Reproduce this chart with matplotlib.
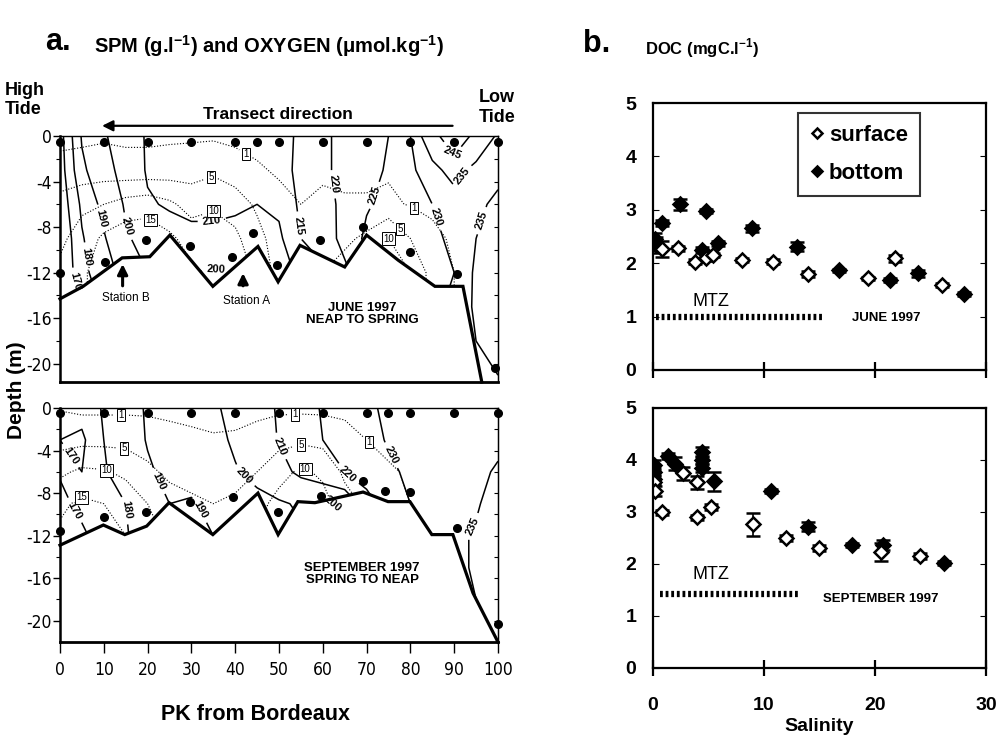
import numpy as np
import matplotlib
matplotlib.use("Agg")
import matplotlib.pyplot as plt
from matplotlib.patches import Polygon, FancyArrowPatch
from matplotlib.lines import Line2D
from matplotlib import font_manager as fm

plt.rcParams.update({"font.family": ["Liberation Sans", "DejaVu Sans"], "axes.unicode_minus": False,
    "mathtext.fontset": "custom", "mathtext.rm": "Liberation Sans", "mathtext.bf": "Liberation Sans:bold"})


def narrow_font(size):
    # condensed face for the section axes, if one is installed
    bad = ("bold", "italic", "oblique", "light", "thin", "semi", "extra", "black", "medium")
    for f in fm.fontManager.ttflist:
        n = f.fname.lower()
        if ("narrow" in n or "condensed" in n) and not any(b in n for b in bad):
            return fm.FontProperties(fname=f.fname, size=size)
    return fm.FontProperties(family="Liberation Sans", size=size - 1.5)


# ---------------- panel a: section grids (PK x depth)
PK = [0, 5, 10, 15, 20, 25, 30, 35, 40, 45, 50, 55, 60, 65, 70, 75, 80, 85, 90, 95, 100]
DEPTH = [0, -3, -6, -9, -12, -15, -18, -21, -24]

o2_june = [
    [166, 191, 199, 205, 211, 212, 212.5, 213, 213, 213.5, 214, 215.5, 219, 221.5, 223.5, 225, 230, 240, 255, 241, 234],
    [165, 188, 197, 203, 211, 212, 212.5, 213, 213, 213, 213.5, 216, 219, 221.5, 223.5, 225.5, 229, 233, 237.5, 233, 233],
    [163, 182, 193, 201, 209, 211, 211, 211, 210.5, 210, 211, 216, 218.5, 221, 224.5, 226.5, 228.5, 230, 232, 233.5, 236.5],
    [160, 179, 189, 199, 203, 206, 209, 209, 209, 208, 209, 215, 217.5, 221.5, 226, 227, 228.5, 229, 231, 235, 237],
    [158, 178, 184, 195, 200, 202, 200, 199, 200, 204, 206, 212, 214, 219, 223, 226, 228, 228.5, 230, 236, 238],
    [156, 170, 182, 193, 198, 200, 198, 198, 198, 202, 205, 211, 213, 218, 222, 225, 228, 229, 231, 236, 237],
    [156, 170, 182, 193, 198, 200, 198, 198, 198, 202, 205, 211, 213, 218, 222, 225, 228, 229, 230, 235, 236],
    [156, 170, 182, 193, 198, 200, 198, 198, 198, 202, 205, 211, 213, 218, 222, 225, 228, 229, 230, 234, 235],
    [156, 170, 182, 193, 198, 200, 198, 198, 198, 202, 205, 211, 213, 218, 222, 225, 228, 229, 230, 234, 235],
]
spm_june = [
    [0.6, 0.5, 0.6, 0.5, 0.5, 0.5, 0.5, 0.5, 0.5, 0.5, 0.5, 0.4, 0.4, 0.4, 0.4, 0.5, 0.5, 0.4, 0.3, 0.3, 0.3],
    [1.5, 2, 2.5, 2, 2, 2.5, 3, 4, 2, 1.2, 0.8, 0.5, 0.6, 0.6, 0.6, 0.7, 0.6, 0.4, 0.3, 0.3, 0.3],
    [7, 9, 10, 12, 13, 11, 8, 9.5, 8, 4, 1.5, 1, 1.5, 1.2, 1.2, 1.5, 0.8, 0.6, 0.4, 0.3, 0.3],
    [9, 12, 16, 18, 18, 16, 13, 12, 11, 7, 2, 2, 3, 4, 6, 10, 5, 1.5, 0.7, 0.4, 0.3],
    [11, 14, 18, 20, 20, 18, 16, 14, 13, 9, 3, 3, 5, 7, 9, 13, 10, 3, 1, 0.5, 0.3],
    [11, 14, 18, 20, 20, 18, 16, 14, 13, 9, 3, 3, 5, 7, 9, 13, 10, 3, 1, 0.5, 0.3],
    [11, 14, 18, 20, 20, 18, 16, 14, 13, 9, 3, 3, 5, 7, 9, 13, 10, 3, 1, 0.5, 0.3],
    [11, 14, 18, 20, 20, 18, 16, 14, 13, 9, 3, 3, 5, 7, 9, 13, 10, 3, 1, 0.5, 0.3],
    [11, 14, 18, 20, 20, 18, 16, 14, 13, 9, 3, 3, 5, 7, 9, 13, 10, 3, 1, 0.5, 0.3],
]
o2_sept = [
    [171, 174, 181, 186, 191, 194, 196, 199, 202, 206, 211, 215, 221, 224, 229, 231, 232, 232.5, 233, 233.5, 234],
    [170, 168, 180, 186, 190.5, 193, 195, 198, 201, 205, 210.5, 214, 220, 223, 228, 230.5, 232, 232.5, 233, 233.5, 234],
    [171, 170, 179, 185, 189, 192, 194, 197, 199.5, 202, 207, 212, 217, 220, 226, 229, 231, 232, 233, 234, 235.5],
    [167, 173, 176, 180, 188, 190, 189, 193, 197, 198, 199, 201, 198, 202, 215, 226, 230, 232, 233.5, 234.5, 237],
    [165, 168, 175, 179, 186, 188, 187, 190, 195, 197, 198, 199, 197, 200, 210, 222, 228, 232, 234, 235.5, 237],
    [165, 168, 175, 179, 186, 188, 187, 190, 195, 197, 198, 199, 197, 200, 210, 222, 228, 232, 234, 235.5, 236.5],
    [165, 168, 175, 179, 186, 188, 187, 190, 195, 197, 198, 199, 197, 200, 210, 222, 228, 232, 234, 235, 236],
    [165, 168, 175, 179, 186, 188, 187, 190, 195, 197, 198, 199, 197, 200, 210, 222, 228, 232, 234, 235, 236],
    [165, 168, 175, 179, 186, 188, 187, 190, 195, 197, 198, 199, 197, 200, 210, 222, 228, 232, 234, 235, 236],
]
spm_sept = [
    [0.8, 0.3, 0.3, 0.3, 0.3, 0.3, 0.3, 0.3, 0.3, 0.3, 0.3, 0.3, 0.3, 0.4, 0.5, 0.4, 0.3, 0.3, 0.3, 0.3, 0.3],
    [3, 3.5, 3.5, 3.5, 3, 2, 1.5, 1.2, 1.3, 2, 3.5, 4, 3.5, 2, 1, 0.6, 0.5, 0.4, 0.3, 0.3, 0.3],
    [9, 11, 10.5, 9, 6, 4, 3, 2.5, 3, 5, 8, 11, 9, 4, 2, 1.2, 0.8, 0.5, 0.4, 0.3, 0.3],
    [14, 16, 15, 13, 10, 7, 6, 5, 6, 8, 12, 14, 12, 7, 4, 2, 1, 0.6, 0.5, 0.4, 0.3],
    [16, 18, 17, 15, 12, 9, 8, 7, 8, 10, 14, 16, 14, 9, 5, 3, 1.5, 0.8, 0.6, 0.5, 0.4],
    [16, 18, 17, 15, 12, 9, 8, 7, 8, 10, 14, 16, 14, 9, 5, 3, 1.5, 0.8, 0.6, 0.5, 0.4],
    [16, 18, 17, 15, 12, 9, 8, 7, 8, 10, 14, 16, 14, 9, 5, 3, 1.5, 0.8, 0.6, 0.5, 0.4],
    [16, 18, 17, 15, 12, 9, 8, 7, 8, 10, 14, 16, 14, 9, 5, 3, 1.5, 0.8, 0.6, 0.5, 0.4],
    [16, 18, 17, 15, 12, 9, 8, 7, 8, 10, 14, 16, 14, 9, 5, 3, 1.5, 0.8, 0.6, 0.5, 0.4],
]

# river bed and sampling points
bed_june_pk = [0, 5.3, 14.2, 20.5, 25.1, 34.9, 45.2, 49.8, 54.8, 65, 70, 77.2, 85.6, 92, 96.3]
bed_june_d = [-14.3, -13.2, -10.7, -10.6, -8.7, -13.2, -9.7, -12.8, -9.6, -11.5, -8.7, -10.9, -13.2, -13.2, -21.6]
bed_sept_pk = [0, 9.9, 14.8, 19.8, 24.9, 34.9, 45.2, 49.8, 54.3, 58.2, 69.2, 74.9, 79.9, 84.9, 89.7, 94.3, 100]
bed_sept_d = [-12.9, -11.0, -11.9, -11.1, -8.9, -11.9, -8.0, -11.9, -8.8, -8.9, -7.9, -8.8, -8.8, -11.9, -11.9, -17.4, -22]
surf_june_pk = [0, 10, 20, 30, 40, 45, 50, 60, 70, 80, 90, 100]
deep_june_pk = [0, 10.3, 19.6, 29.7, 39.3, 44.1, 49.5, 59.4, 69.2, 80, 90.6, 99.4]
deep_june_d = [-12, -11.1, -9.1, -9.7, -10.6, -8.5, -11.3, -9.1, -8, -10.2, -12.1, -20.4]
surf_sept_pk = [0, 10, 20, 30, 40, 50, 60, 70, 75, 80, 90, 100]
deep_sept_pk = [0, 10, 19.6, 29.7, 39.5, 49.8, 59.6, 69.2, 74.2, 79.9, 90.6, 100]
deep_sept_d = [-11.6, -10.2, -9.8, -8.8, -8.4, -9.8, -8.3, -6.9, -7.8, -7.9, -11.3, -20.3]

o2_levels_june = [170, 180, 190, 200, 210, 215, 220, 225, 230, 235, 245]
o2_levels_sept = [170, 180, 190, 200, 210, 220, 230, 235]
spm_levels = [1, 5, 10, 15]

# ---------------- panel b: DOC vs salinity
jun_surf_s = [0.8, 2.3, 3.8, 4.8, 5.4, 8.0, 10.8, 14.0, 19.4, 21.8, 26.0]
jun_surf_doc = [2.26, 2.28, 2.03, 2.09, 2.15, 2.06, 2.03, 1.80, 1.72, 2.09, 1.59]
jun_surf_err = [0.15, 0.05, 0.05, 0.04, 0.04, 0.04, 0.05, 0.06, 0.03, 0.06, 0.04]
jun_bot_s = [0.2, 0.3, 0.8, 2.4, 4.4, 4.8, 5.9, 8.9, 13.0, 16.8, 21.4, 23.9, 28.0]
jun_bot_doc = [2.45, 2.35, 2.75, 3.10, 2.25, 2.98, 2.37, 2.65, 2.31, 1.87, 1.69, 1.81, 1.42]
jun_bot_err = [0.12, 0.15, 0.06, 0.10, 0.05, 0.04, 0.05, 0.06, 0.08, 0.03, 0.04, 0.06, 0.04]
sep_surf_s = [0.1, 0.2, 0.8, 2.7, 4.0, 4.0, 5.2, 9.0, 12.0, 15.0, 20.5, 24.1]
sep_surf_doc = [3.58, 3.40, 2.99, 3.74, 3.57, 2.90, 3.10, 2.76, 2.50, 2.31, 2.23, 2.15]
sep_surf_err = [0.06, 0.10, 0.05, 0.12, 0.12, 0.05, 0.06, 0.22, 0.05, 0.06, 0.18, 0.06]
sep_bot_s = [0.1, 0.1, 0.1, 1.4, 2.0, 4.4, 4.4, 4.4, 5.5, 10.6, 14.0, 17.9, 20.7, 26.2]
sep_bot_doc = [3.90, 3.77, 3.64, 4.08, 3.93, 4.15, 4.00, 3.85, 3.59, 3.40, 2.72, 2.36, 2.37, 2.02]
sep_bot_err = [0.10, 0.08, 0.08, 0.06, 0.12, 0.10, 0.08, 0.08, 0.18, 0.04, 0.08, 0.04, 0.10, 0.04]
mtz_june_s, mtz_june_doc = [0.3, 15.2], [1.0, 1.0]
mtz_sept_s, mtz_sept_doc = [0.6, 13.2], [1.43, 1.43]

fig = plt.figure(figsize=(10.03, 7.40), dpi=100)


def contour_level(ax, field, lv, water, pos, dotted):
    if dotted:
        cs = ax.contour(PK, DEPTH, field, levels=[lv], colors="k", linewidths=0.8,
                        linestyles=[(0, (1, 1.6))])
    else:
        cs = ax.contour(PK, DEPTH, field, levels=[lv], colors="k", linewidths=1.1)
    cs.set_clip_path(water)
    if pos:
        ax.clabel(cs, manual=pos, inline=True, fmt="%d", fontsize=7 if dotted else 8)
        for t in cs.labelTexts:
            if dotted:
                t.set_rotation(0)
                t.set_bbox(dict(boxstyle="square,pad=0.12", fc="white", ec="k", lw=0.7))
            else:
                t.set_fontweight("bold")


def section(ax, ybot, o2, o2_lev, o2_lab, spm, spm_lab, bpk, bd, spk, dpk, dd, note):
    ax.set_xlim(0, 100); ax.set_ylim(ybot, 0)
    water = Polygon(list(zip([0, 100, 100], [0.6, 0.6, ybot])) + list(zip(bpk[::-1], bd[::-1])),
                    closed=True, transform=ax.transData)
    for lv in o2_lev:
        contour_level(ax, o2, lv, water, o2_lab.get(lv), False)
    for lv in spm_levels:
        contour_level(ax, spm, lv, water, spm_lab.get(lv), True)
    ax.plot(bpk, bd, color="k", lw=2.3, solid_joinstyle="miter", clip_on=False)
    ax.plot(spk, [-0.5] * len(spk), "o", color="k", ms=5.5, clip_on=False, zorder=5)
    ax.plot(dpk, dd, "o", color="k", ms=5.5, clip_on=False, zorder=5)
    ax.text(69, -15.6, note, ha="center", va="center", fontsize=9.5, fontweight="bold", linespacing=1.0)
    ax.set_yticks([0, -4, -8, -12, -16, -20])
    ax.set_yticklabels(["0", "-4", "-8", "-12", "-16", "-20"], fontproperties=narrow_font(12.5))
    ax.set_yticks([-2, -6, -10, -14, -18], minor=True)
    ax.tick_params(axis="y", which="major", direction="out", length=5, width=1, pad=1)
    ax.tick_params(axis="y", which="minor", direction="out", length=3, width=0.8)
    sec = ax.secondary_yaxis("right")
    sec.set_yticks(list(range(0, int(ybot) - 1, -2)))
    sec.tick_params(direction="in", length=3, labelright=False, width=0.8)
    ax.spines["left"].set_linewidth(1.8)
    ax.spines["bottom"].set_linewidth(2.0)
    ax.spines["top"].set_linewidth(1.0)
    ax.spines["right"].set_linewidth(1.0)


axA1 = fig.add_axes([0.0598, 0.4838, 0.4367, 0.3324])
axA2 = fig.add_axes([0.0598, 0.1324, 0.4367, 0.3162])

section(axA1, -21.6, o2_june, o2_levels_june,
        {170: [(2.3, -12.9)], 180: [(4.1, -10.7)], 190: [(7.6, -7.4)], 200: [(14.8, -8.0), (35.8, -11.2)],
         210: [(34.7, -9.0)], 215: [(52, -8)], 220: [(61.2, -4.3)], 225: [(75, -5.6)], 230: [(86, -7.1)],
         235: [(90, -3.0), (96, -7.4)], 245: [(90, -1.4)]},
        spm_june, {1: [(41, -2.5), (80.3, -6.7)], 5: [(34.7, -3.9), (78, -8)], 10: [(35, -6.2), (74.6, -8.5)],
                   15: [(22, -6.5)]},
        bed_june_pk, bed_june_d, surf_june_pk, deep_june_pk, deep_june_d, "JUNE 1997\nNEAP TO SPRING")
axA1.set_xticks([])
for x0, y0 in [(14.3, -11.0), (41.8, -11.8)]:
    axA1.annotate("", xy=(x0, y0), xytext=(x0, -13.4),
                  arrowprops=dict(arrowstyle="-|>", color="k", lw=2.2, mutation_scale=15))
axA1.text(15, -14.2, "Station B", ha="center", va="center", fontsize=8.5)
axA1.text(42.5, -14.5, "Station A", ha="center", va="center", fontsize=8.5)

section(axA2, -22.0, o2_sept, o2_levels_sept,
        {170: [(3.4, -4.2), (3.4, -9.6)], 180: [(15.3, -9.6)], 190: [(22.4, -6.9), (31, -9.8)],
         200: [(41.6, -6.6), (62.5, -8.6)], 210: [(48.7, -3.9)], 220: [(64.6, -6.8)], 230: [(75.8, -4.4)],
         235: [(95.2, -11.3)]},
        spm_sept, {1: [(14, -0.8), (53.6, -0.8), (70.3, -3.3)], 5: [(14.8, -2.7), (55.2, -2.7)],
                   10: [(10.7, -5.8), (57, -4.7)], 15: [(5.3, -7.5)]},
        bed_sept_pk, bed_sept_d, surf_sept_pk, deep_sept_pk, deep_sept_d, "SEPTEMBER 1997\nSPRING TO NEAP")
axA2.set_xticks(range(0, 101, 10))
axA2.set_xticklabels([str(v) for v in range(0, 101, 10)], fontproperties=narrow_font(12.5))
axA2.tick_params(axis="x", direction="out", length=8, width=1, pad=6)


# ---------------- panel b
def doc_panel(ax, ss, sd, se, bs, bd_, be, ms_, md, note, note_xy, mtz_xy):
    kw = dict(fmt="D", ms=7, mec="k", mew=1.8, ecolor="k", elinewidth=1.2, capsize=5, capthick=1.2)
    ax.errorbar(bs, bd_, yerr=be, mfc="k", **kw)
    ax.errorbar(ss, sd, yerr=se, mfc="white", **kw)
    ax.plot(ms_, md, color="k", lw=4.5, ls=(0, (0.45, 0.45)), dash_capstyle="butt")
    ax.text(mtz_xy[0], mtz_xy[1], "MTZ", ha="center", va="center", fontsize=13)
    ax.text(note_xy[0], note_xy[1], note, ha="center", va="center", fontsize=9.5, fontweight="bold")
    ax.set_xlim(0, 30); ax.set_ylim(0, 5)
    ax.set_xticks([0, 10, 20, 30]); ax.set_yticks([0, 1, 2, 3, 4, 5])
    ax.tick_params(axis="x", direction="inout", length=12, width=1.6, pad=15)
    ax.tick_params(axis="y", direction="in", length=4, width=0.8, right=True, pad=12)
    for lab in ax.get_yticklabels() + ax.get_xticklabels():
        lab.set_fontweight("bold"); lab.set_fontsize(14)
    for s in ax.spines.values():
        s.set_linewidth(1.6)


axB1 = fig.add_axes([0.651, 0.5, 0.332, 0.3608])
axB2 = fig.add_axes([0.651, 0.0973, 0.332, 0.3514])
doc_panel(axB1, jun_surf_s, jun_surf_doc, jun_surf_err, jun_bot_s, jun_bot_doc, jun_bot_err,
          mtz_june_s, mtz_june_doc, "JUNE 1997", (21, 0.97), (5.2, 1.28))
axB1.tick_params(axis="x", labelbottom=False)
doc_panel(axB2, sep_surf_s, sep_surf_doc, sep_surf_err, sep_bot_s, sep_bot_doc, sep_bot_err,
          mtz_sept_s, mtz_sept_doc, "SEPTEMBER 1997", (20.5, 1.33), (5.2, 1.79))
axB2.set_xlabel("Salinity", fontsize=14, fontweight="bold", labelpad=3)

handles = [Line2D([], [], marker="D", ls="none", mfc="white", mec="k", mew=1.8, ms=5.5),
           Line2D([], [], marker="D", ls="none", mfc="k", mec="k", mew=1.8, ms=5.5)]
leg = axB1.legend(handles, ["surface", "bottom"], loc="upper left", bbox_to_anchor=(0.435, 0.963),
                  frameon=True, fancybox=False, edgecolor="k", prop={"weight": "bold", "size": 16},
                  handlelength=0.6, handletextpad=0.25, borderpad=0.55, labelspacing=0.75, borderaxespad=0)
leg.get_frame().set_linewidth(1.5)

# ---------------- figure texts
fig.text(0.045, 0.943, "a.", fontsize=22, fontweight="bold", va="center")
fig.text(0.094, 0.938, r"SPM (g.l$^{\mathbf{-1}}$) and OXYGEN ($\mathbf{\mu}$mol.kg$^{\mathbf{-1}}$)",
         fontsize=14.5, fontweight="bold", va="center")
fig.text(0.581, 0.941, "b.", fontsize=22, fontweight="bold", va="center")
fig.text(0.643, 0.935, r"DOC (mgC.l$^{\mathbf{-1}}$)", fontsize=12, fontweight="bold", va="center")
fig.text(0.005, 0.865, "High\nTide", fontsize=13, fontweight="bold", va="center", linespacing=1.2)
fig.text(0.477, 0.855, "Low\nTide", fontsize=13, fontweight="bold", va="center", linespacing=1.2)
fig.text(0.277, 0.845, "Transect direction", fontsize=12.5, fontweight="bold", ha="center", va="center")
fig.patches.append(FancyArrowPatch((0.454, 0.830), (0.099, 0.830), transform=fig.transFigure,
                   arrowstyle="-|>", mutation_scale=16, lw=1.6, color="k"))
fig.text(0.016, 0.473, "Depth (m)", rotation=90, fontsize=15, fontweight="bold", ha="center", va="center")
fig.text(0.255, 0.034, "PK from Bordeaux", fontsize=15.5, fontweight="bold", ha="center", va="center")

fig.savefig("out.png", dpi=100)
